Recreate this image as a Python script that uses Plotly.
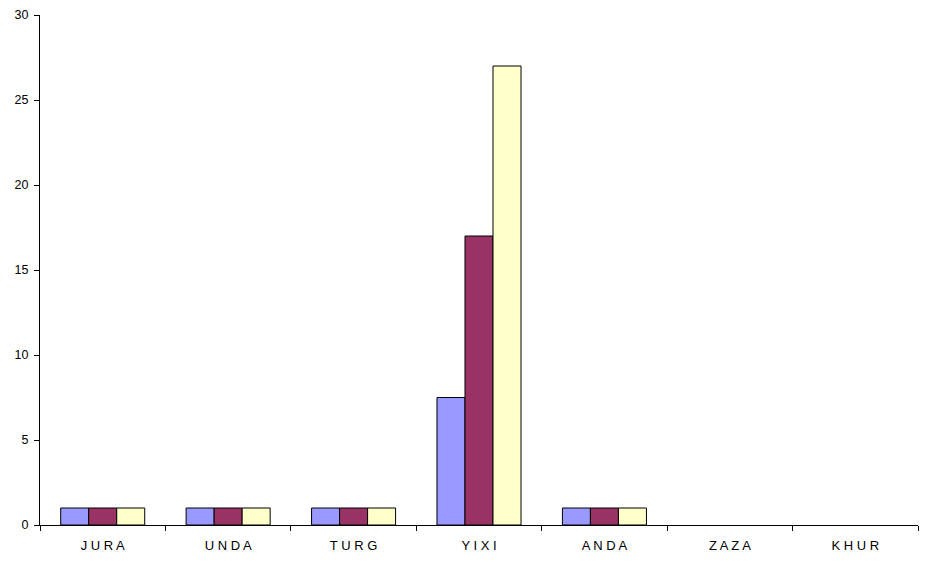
import plotly.graph_objects as go

categories = ["JURA", "UNDA", "TURG", "YIXI", "ANDA", "ZAZA", "KHUR"]
tick_labels = ["J U R A", "U N D A", "T U R G", "Y I X I", "A N D A", "Z A Z A", "K H U R"]
series_1 = [1, 1, 1, 7.5, 1, 0, 0]
series_2 = [1, 1, 1, 17, 1, 0, 0]
series_3 = [1, 1, 1, 27, 1, 0, 0]
colors = ["#9999FF", "#993366", "#FFFFCC"]

fig = go.Figure()
for vals, c in zip([series_1, series_2, series_3], colors):
    widths = [1 if v else 0 for v in vals]
    fig.add_trace(go.Bar(x=categories, y=vals, marker=dict(color=c, line=dict(color="black", width=widths))))

fig.update_layout(
    width=934, height=580,
    margin=dict(l=32, r=24, t=7, b=63),
    plot_bgcolor="white", paper_bgcolor="white",
    barmode="group", bargap=0.33, bargroupgap=0,
    showlegend=False,
    font=dict(family="Liberation Sans, Arial, sans-serif", color="black"),
)
fig.update_xaxes(
    tickmode="array", tickvals=categories, ticktext=tick_labels,
    showline=True, linecolor="black", linewidth=1,
    ticks="outside", tickson="boundaries", ticklen=5, tickcolor="black",
    tickfont=dict(size=13), showgrid=False, automargin=False,
    ticklabelstandoff=8,
)
fig.update_yaxes(
    range=[0, 30], dtick=5, showline=True, linecolor="black", linewidth=1,
    ticks="outside", ticklen=5, tickcolor="black", tickfont=dict(size=12.5),
    showgrid=False, zeroline=False, automargin=False, ticklabelstandoff=3,
)
fig.write_html("out.html")
